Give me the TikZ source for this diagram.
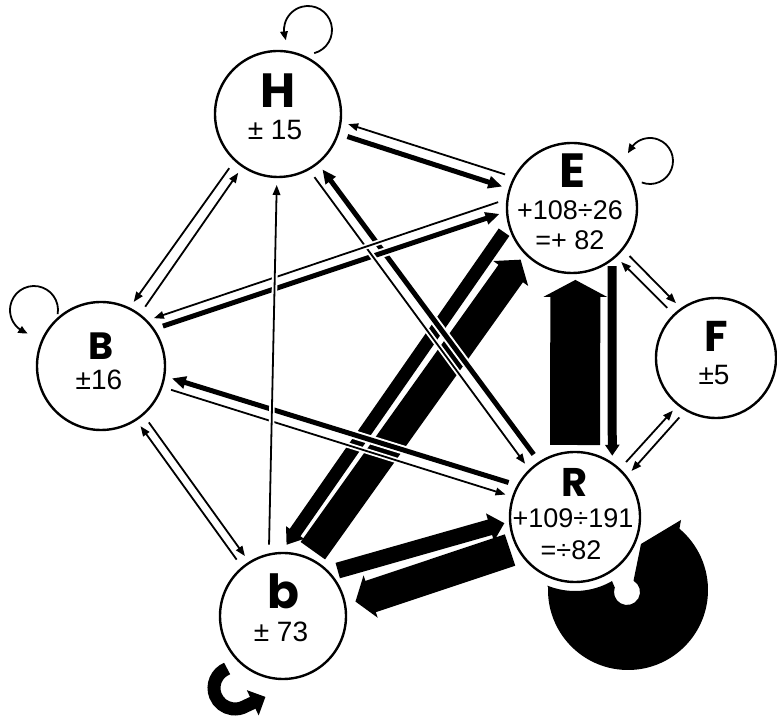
\documentclass[tikz,border=0pt]{standalone}
\usepackage{fontspec}
\usetikzlibrary{arrows.meta,calc,bending}
\newfontfamily\letfont{Poppins}
\newfontfamily\numfont{Liberation Sans}
\begin{document}
\begin{tikzpicture}[x=1pt,y=1pt,
  state/.style={circle, draw, line width=2.4pt, fill=white, minimum size=#1, inner sep=0pt, outer sep=0pt},
  letter/.style={font=\letfont\bfseries\fontsize{#1}{#1}\selectfont, anchor=base, inner sep=0pt},
  num/.style={font=\numfont\fontsize{#1}{#1}\selectfont, anchor=base, inner sep=0pt},
  thinarr/.style={line width=1.8pt, -{Triangle[length=10pt,width=7.5pt]}, shorten <=10pt, shorten >=8pt,
     preaction={draw=white, line width=5.5pt, -}},
  medarr/.style={line width=5pt, -{Triangle[length=14pt,width=12pt]}, shorten <=10pt, shorten >=8pt,
     preaction={draw=white, line width=9pt, -}},
  loopthin/.style={line width=1.8pt, -{Triangle[length=9pt,width=7.5pt,bend]}},
]
\useasboundingbox (0,0) rectangle (777,720);

% states
\node[state=126pt] (H) at (278,606) {};
\node[state=130pt] (E) at (572,512) {};
\node[state=128pt] (B) at (101,354) {};
\node[state=120pt] (F) at (716,362) {};
\node[state=130pt] (R) at (575,203) {};
\node[state=126pt] (b) at (283,104) {};

% thick flows
\draw[line width=50pt, -{Triangle[length=17pt,width=63pt]}, shorten <=7pt, shorten >=7pt] (R.90) -- (E.273);
\draw[line width=9pt, -{Triangle[length=11pt,width=14pt]}, shorten <=7pt, shorten >=8pt] (E.-52) -- (R.55);
\draw[line width=30pt, -{Triangle[length=17pt,width=42pt]}, shorten <=9pt, shorten >=8pt] (b.67) -- (E.224);
\draw[line width=13pt, -{Triangle[length=15pt,width=21pt]}, shorten <=9pt, shorten >=10pt] (E.195) -- (b.92);
\draw[line width=16pt, -{Triangle[length=15pt,width=28pt]}, shorten <=9pt, shorten >=6pt] (b.43) -- (R.184);
\draw[line width=33pt, -{Triangle[length=16pt,width=44pt]}, shorten <=8pt, shorten >=11pt] (R.208) -- (b.10);

% medium flows
\draw[medarr] (H.-18) -- (E.163);
\draw[medarr] (R.123) -- (H.-51);
\draw[medarr] (B.35) -- (E.183);
\draw[medarr] (R.151) -- (B.-9);

% thin flows
\draw[thinarr] (E.152) -- (H.-7);
\draw[thinarr] (H.227) -- (B.64);
\draw[thinarr] (B.53) -- (H.236);
\draw[thinarr] (H.-61) -- (R.134);
\draw[thinarr] (E.172) -- (B.45);
\draw[thinarr] (E.-39) -- (F.125);
\draw[thinarr] (F.134) -- (E.-48);
\draw[thinarr] (R.47) -- (F.231);
\draw[thinarr] (F.240) -- (R.38);
\draw[thinarr] (B.-19) -- (R.162);
\draw[thinarr] (B.-49) -- (b.122);
\draw[thinarr] (b.130) -- (B.-57);
\draw[thinarr] (b.103) -- (H.269);

% self loops
\draw[loopthin] ($(H)+(30,84)+(-75:24pt)$) arc[start angle=-75,end angle=205,radius=24pt];
\draw[loopthin] ($(E)+(78,47)+(-111:23pt)$) arc[start angle=-111,end angle=161,radius=23pt];
\draw[loopthin] ($(B)+(-67,56)+(-10:24pt)$) arc[start angle=-10,end angle=255,radius=24pt];
\draw[line width=13pt, -{Triangle[length=14pt,width=27pt]}] ($(b)+(-48,-72)+(112:21pt)$)
   arc[start angle=112,end angle=300,radius=21pt] -- ++(25:22pt);
\begin{scope}[shift={(R.center)}]
\fill (53,-73) ++(178:80pt) arc[start angle=178,end angle=410,radius=80pt]
   -- (106,-3) -- (66,-27) -- ($(52,-75)+(60:13pt)$)
   arc[start angle=60,end angle=-200,radius=13pt]
   -- (-60:74pt) arc[start angle=-60,end angle=-112,radius=74pt] -- cycle;
\end{scope}

% labels
\node[letter=48] (Hl) at ($(H)+(0,6)$) {H};
\node[num=28] (Hn) at ($(H)+(-3,-26)$) {± 15};
\node[letter=48] (El) at ($(E)+(0,20)$) {E};
\node[num=27] (En1) at ($(E)+(-2,-12)$) {+108÷26};
\node[num=27] (En2) at ($(E)+(-2,-42)$) {=+ 82};
\node[letter=38] (Bl) at ($(B)+(0,6)$) {B};
\node[num=28] (Bn) at ($(B)+(-2,-24)$) {±16};
\node[letter=43] (Fl) at ($(F)+(0,6)$) {F};
\node[num=28] (Fn) at ($(F)+(-2,-27)$) {±5};
\node[letter=40] (Rl) at ($(R)+(0,20)$) {R};
\node[num=27] (Rn1) at ($(R)+(-2,-11)$) {+109÷191};
\node[num=27] (Rn2) at ($(R)+(-4,-43)$) {=÷82};
\node[letter=47] (bl) at ($(b)+(0,7)$) {b};
\node[num=28] (bn) at ($(b)+(-2,-26)$) {± 73};
\end{tikzpicture}
\end{document}
